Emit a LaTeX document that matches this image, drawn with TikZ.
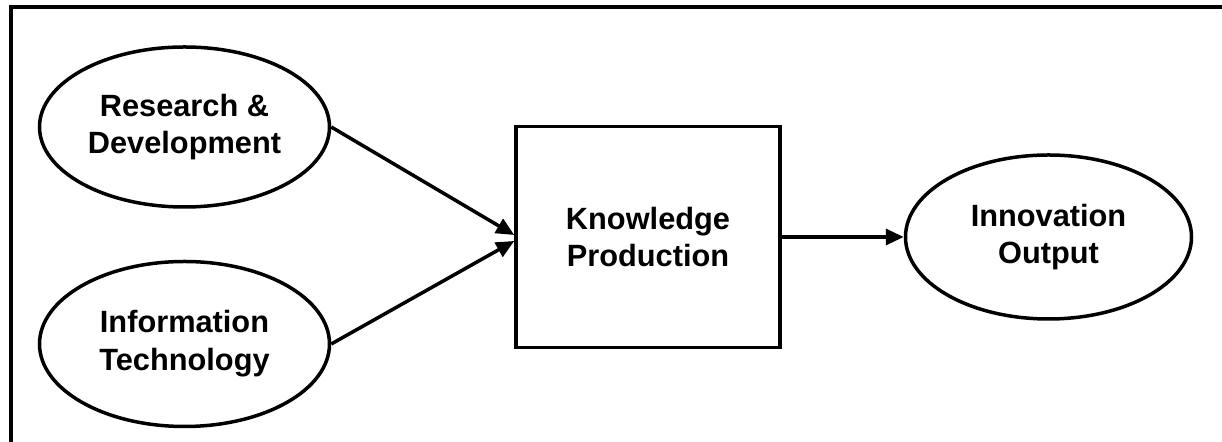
\documentclass[tikz,border=0pt]{standalone}
\usepackage{fontspec}
\setmainfont{Liberation Sans}
\usetikzlibrary{shapes.geometric, arrows.meta, positioning}
\tikzset{
  idea/.style ={ellipse, draw=black, line width=0.07cm, minimum width=5.8cm,
                minimum height=3.2cm, align=center, inner sep=0pt,
                font=\fontsize{17.5}{21.5}\selectfont\bfseries},
  procbox/.style={rectangle, draw=black, line width=0.07cm, minimum width=5.28cm,
                minimum height=4.42cm, align=center,
                font=\fontsize{17.5}{21.5}\selectfont\bfseries},
  flow/.style  ={-{Triangle[length=0.36cm, width=0.32cm]}, line width=0.07cm},
  frame/.style ={line width=0.07cm},
}
\begin{document}
\begin{tikzpicture}
    \useasboundingbox (0,0) rectangle (24.44,8.84);
    \draw[frame] (0.22,-0.2) -- (0.22,8.70) -- (24.6,8.70);

    \node[procbox] (kp) at (12.96,4.10) {Knowledge\\Production};
    \node[idea, left=3.66cm of kp, yshift=2.2cm] (rd) {Research \&\\Development};
    \node[idea, left=3.66cm of kp, yshift=-2.14cm, minimum height=3.3cm] (it) {Information\\Technology};
    \node[idea, right=2.44cm of kp, minimum width=5.72cm, minimum height=3.28cm] (io) {Innovation\\Output};

    \draw[flow] (rd.east) -- ([yshift=0.04cm]kp.west);
    \draw[flow] (it.east) -- ([yshift=-0.08cm]kp.west);
    \draw[flow] (kp) -- (io);
\end{tikzpicture}
\end{document}
